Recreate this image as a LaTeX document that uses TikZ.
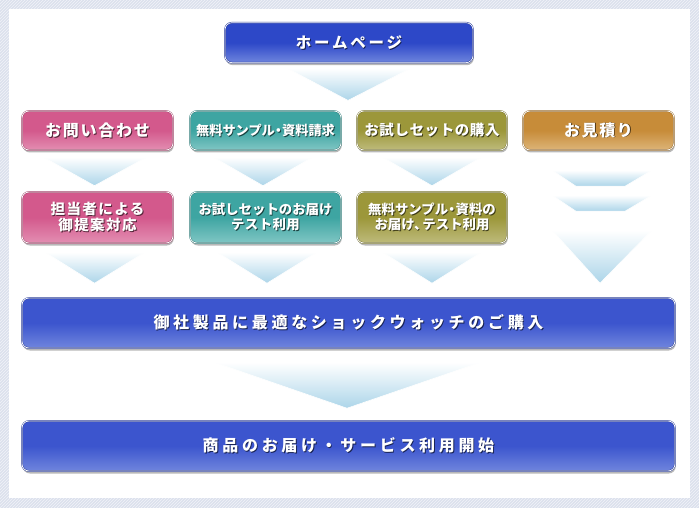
\documentclass[tikz,border=0pt]{standalone}
\usepackage{fontspec}
\newfontfamily\jp{Noto Sans CJK JP}
\usetikzlibrary{shadows,patterns,calc}
\definecolor{bgc}{HTML}{DCE1ED}
\definecolor{blueT}{HTML}{2D48C8}
\definecolor{blueB}{HTML}{6F85DD}
\definecolor{bluetT}{HTML}{3C55CE}
\definecolor{bluetB}{HTML}{6F85DD}
\definecolor{pinkT}{HTML}{D3598C}
\definecolor{pinkB}{HTML}{E38EB2}
\definecolor{tealT}{HTML}{3EA5A2}
\definecolor{tealB}{HTML}{80C6C4}
\definecolor{oliveT}{HTML}{9C973A}
\definecolor{oliveB}{HTML}{BEBB7C}
\definecolor{orangeT}{HTML}{C78C39}
\definecolor{orangeB}{HTML}{DDB478}
\definecolor{arrowB}{HTML}{ACD5E9}
\colorlet{tsc}{black!50}
\newcommand\tsh[1]{\makebox[0pt][l]{\kern0.9pt\raisebox{-0.9pt}{\textcolor{tsc}{#1}}}#1}
\newcommand\fz[3]{\fontsize{#1}{#2}\selectfont\addfontfeature{LetterSpace=#3}}
\tikzset{
  box/.style={rounded corners=7pt, draw=#1T!75!black, double=white,
    line width=0.45pt, double distance=0.7pt,
    top color=#1T, bottom color=#1B, middle color=#1T,
    text=white, align=center, inner sep=0pt,
    drop shadow={shadow xshift=0.8pt, shadow yshift=-2.5pt, opacity=0.28, fill=black},
    font=\jp\bfseries\colorlet{tsc}{#1T!40!black}},
  arrowfill/.style={top color=white, bottom color=arrowB, draw=white, line width=0.6pt},
}
\begin{document}
\begin{tikzpicture}[x=1pt,y=-1pt]
\useasboundingbox (0,0) rectangle (699,508);
\fill[bgc] (0,0) rectangle (699,508);
\fill[pattern=north east lines, pattern color=white!60!bgc] (0,0) rectangle (699,508);
\fill[white] (9,9) rectangle (690,498);

\node[box=blue, minimum width=248pt, minimum height=40pt] (home) at (349,42.7)
  {\fz{15.5}{18}{18}\tsh{ホームページ}};

\node[box=pink, minimum width=151pt, minimum height=39pt] (toi) at (97.5,130.5)
  {\fz{16}{18}{11}\tsh{お問い合わせ}};
\node[box=teal, minimum width=151pt, minimum height=39pt] (sample) at (265.5,130.5)
  {\fz{13.2}{15}{0}\tsh{無料サンプル\kern-3pt・\kern-3pt資料請求}};
\node[box=olive, minimum width=150pt, minimum height=39pt] (trial) at (432,130.5)
  {\fz{14.5}{17}{4}\tsh{お試しセットの購入}};
\node[box=orange, minimum width=151pt, minimum height=39pt] (est) at (598.5,130.5)
  {\fz{16}{18}{10}\tsh{お見積り}};

\node[box=pink, minimum width=151pt, minimum height=51pt] (tanto) at (97.5,217.5)
  {\fz{14.5}{17.5}{10}\tsh{担当者による}\\\fz{14.5}{17.5}{10}\tsh{御提案対応}};
\node[box=teal, minimum width=151pt, minimum height=51pt] (test) at (265.5,217.5)
  {\fz{13.4}{17.5}{0}\tsh{お試しセットのお届け}\\\fz{13.4}{17.5}{3}\tsh{テスト利用}};
\node[box=olive, minimum width=150pt, minimum height=51pt] (deliv) at (432,217.5)
  {\fz{13.4}{17}{0}\tsh{無料サンプル\kern-3pt・\kern-3pt資料の}\\\fz{13.4}{17}{0}\tsh{お届け、\kern-5ptテスト利用}};

\node[box=bluet, minimum width=653pt, minimum height=50pt] (buy) at (348.5,323)
  {\fz{16}{18}{23}\tsh{御社製品に最適なショックウォッチのご購入}};
\node[box=bluet, minimum width=653pt, minimum height=50pt] (start) at (348.5,446)
  {\fz{16}{18}{23}\tsh{商品のお届け・サービス利用開始}};

% arrows
\path[arrowfill] ($(home.south)+(-61.5,5.5)$) -- ($(home.south)+(61.5,5.5)$) -- ($(home.south)+(-1,37.5)$) -- cycle;

\path[arrowfill] ($(toi.south)+(-54,7)$) -- ($(toi.south)+(49,7)$) -- ($(toi.south)+(-3,35.5)$) -- cycle;
\path[arrowfill] ($(sample.south)+(-52,7)$) -- ($(sample.south)+(47,7)$) -- ($(sample.south)+(-2.5,35.5)$) -- cycle;
\path[arrowfill] ($(trial.south)+(-49.5,7)$) -- ($(trial.south)+(49.5,7)$) -- ($(trial.south)+(0,35.5)$) -- cycle;

\path[arrowfill] ($(est.south)+(-46.5,20)$) -- ($(est.south)+(53.5,20)$) -- ($(est.south)+(26.5,36)$) -- ($(est.south)+(-22.5,36)$) -- cycle;
\path[arrowfill] ($(est.south)+(-46.5,45)$) -- ($(est.south)+(53.5,45)$) -- ($(est.south)+(26.5,61)$) -- ($(est.south)+(-22.5,61)$) -- cycle;
\path[arrowfill] ($(est.south)+(-46.5,80)$) -- ($(est.south)+(53.5,80)$) -- ($(est.south)+(1.5,133)$) -- cycle;

\path[arrowfill] ($(tanto.south)+(-52.5,9)$) -- ($(tanto.south)+(47.5,9)$) -- ($(tanto.south)+(-3,40)$) -- cycle;
\path[arrowfill] ($(test.south)+(-48.5,9)$) -- ($(test.south)+(51.5,9)$) -- ($(test.south)+(1.5,40)$) -- cycle;
\path[arrowfill] ($(deliv.south)+(-49.5,9)$) -- ($(deliv.south)+(49.5,9)$) -- ($(deliv.south)+(0,40)$) -- cycle;

\path[arrowfill] ($(buy.south)+(-134.5,14)$) -- ($(buy.south)+(132.5,14)$) -- ($(buy.south)+(-1.5,60)$) -- cycle;
\end{tikzpicture}
\end{document}
